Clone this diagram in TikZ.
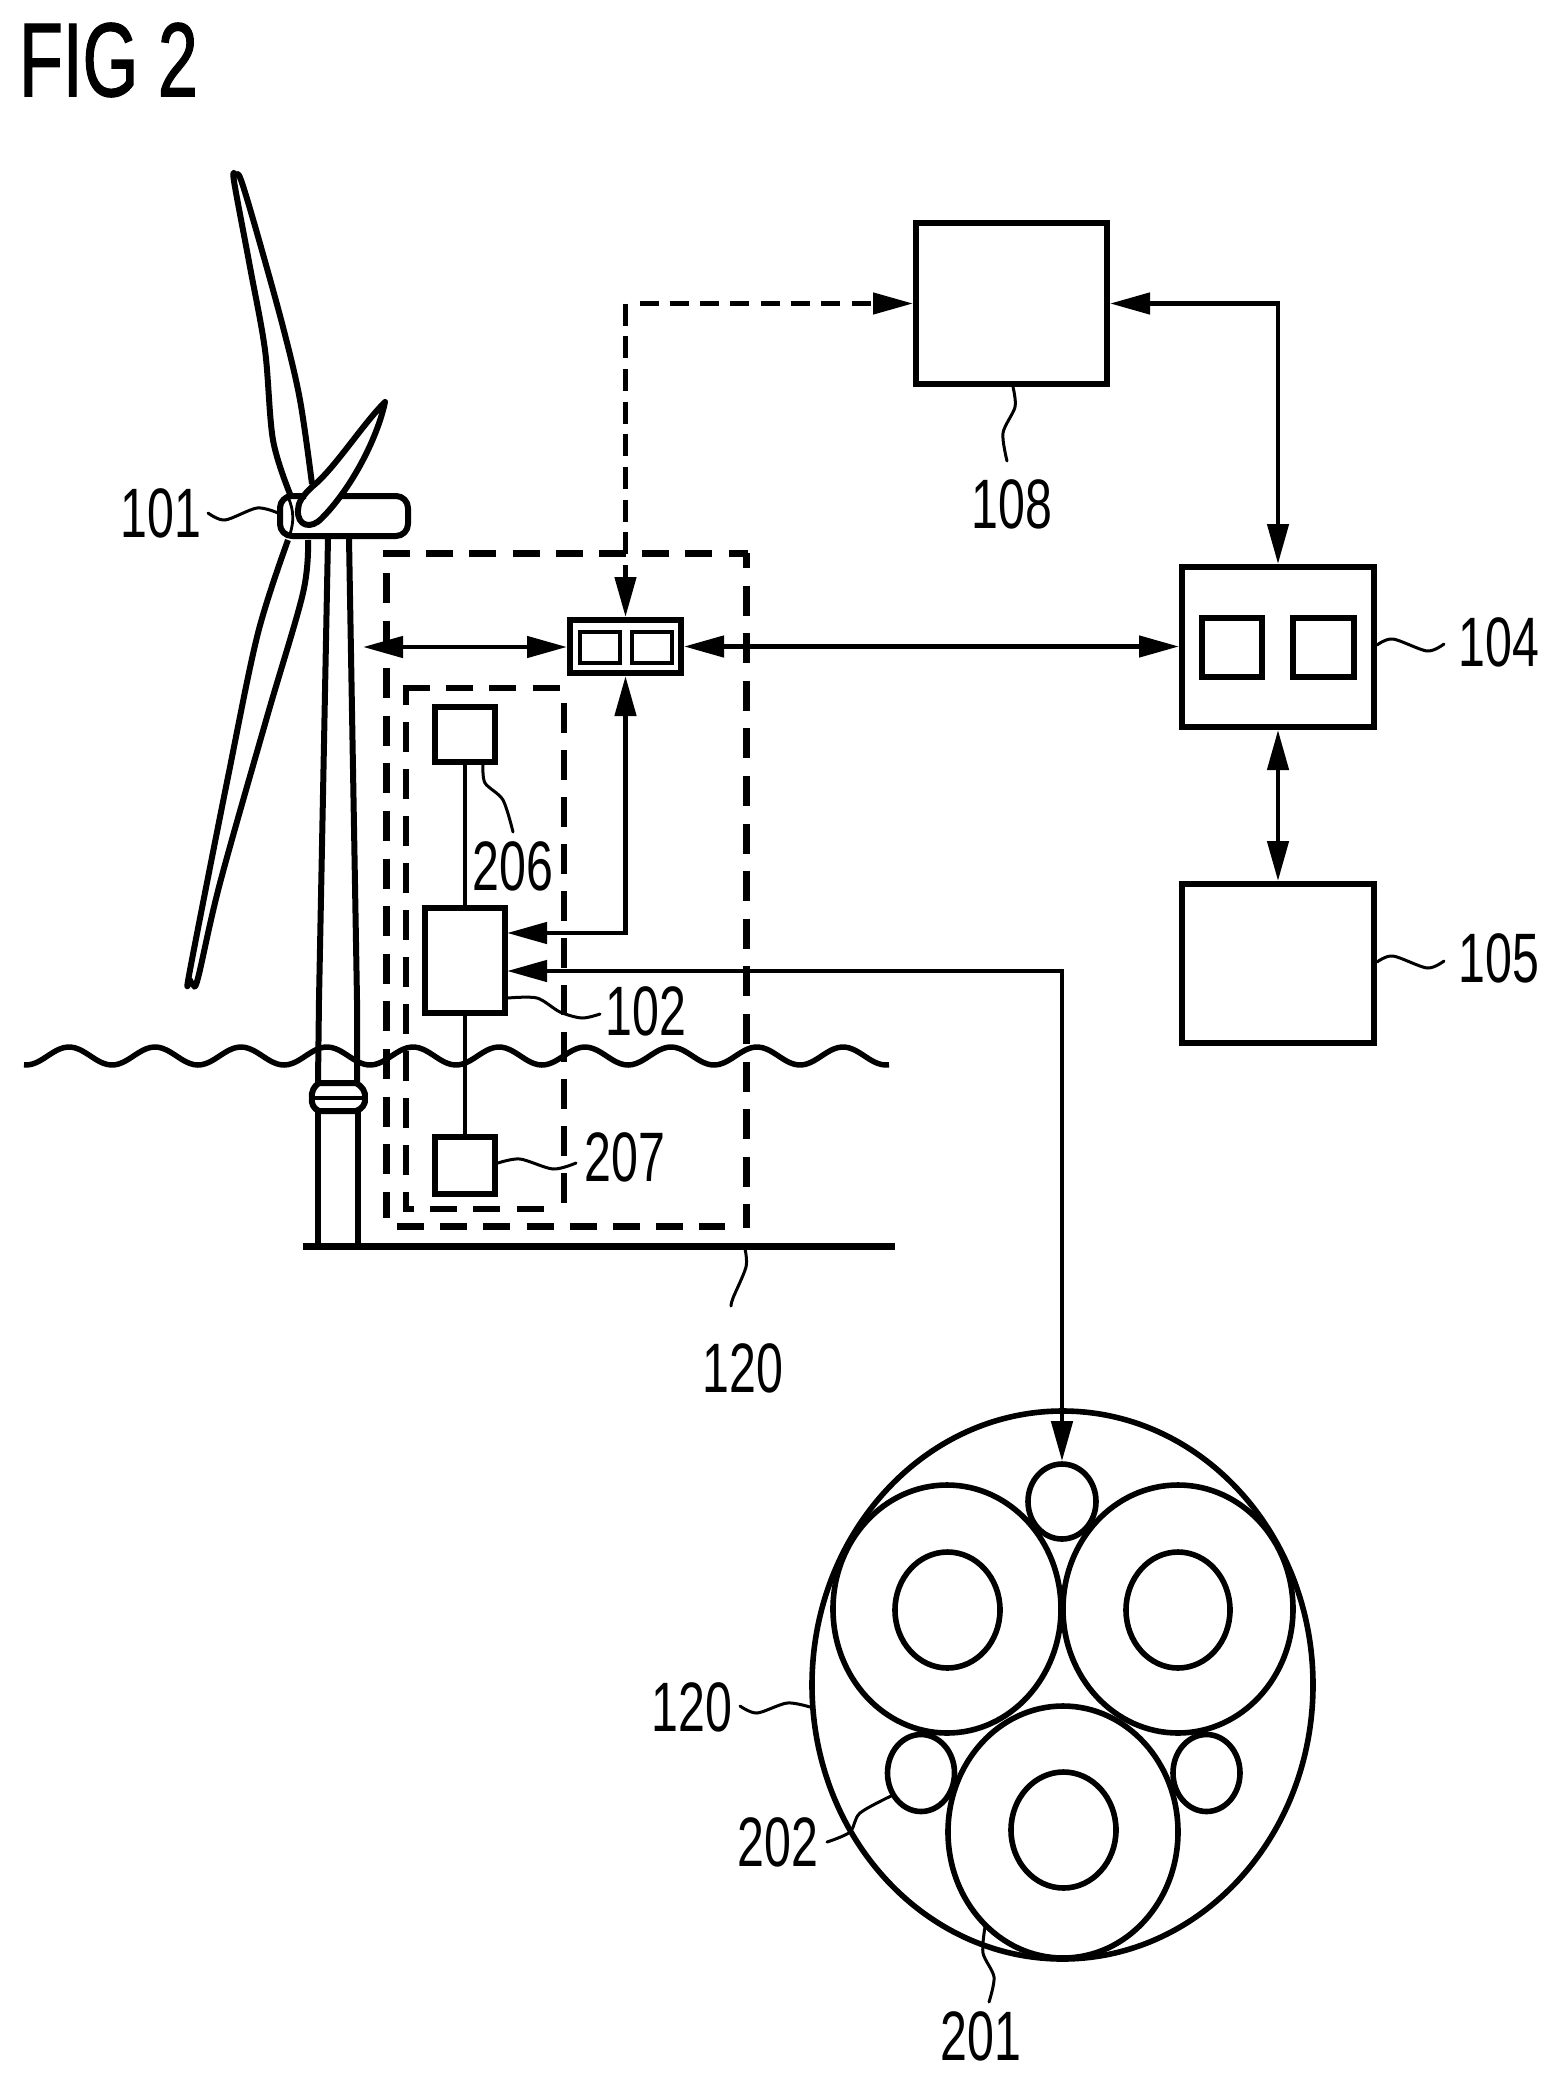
\documentclass[tikz,border=0pt]{standalone}
\usepackage{fontspec}
\setmainfont[FakeStretch=0.69]{Liberation Sans}
\newfontfamily\figfont[FakeStretch=0.68,FakeBold=1.2]{Liberation Sans}
\usetikzlibrary{arrows.meta,shapes.geometric,calc}
\tikzset{
  >={Triangle[length=40pt,width=21pt]},
  box/.style={draw,line width=6pt,inner sep=0pt,rectangle},
  thinbox/.style={draw,line width=4.5pt,inner sep=0pt,rectangle},
  conn/.style={line width=4.6pt,line cap=butt},
  wire/.style={line width=4pt},
  dashH/.style={line width=4.6pt,dash pattern=on 19pt off 11.3pt},
  dashV/.style={line width=4.6pt,dash pattern=on 22pt off 10.7pt},
  lead/.style={line width=3pt,line cap=round},
  num/.style={inner sep=0pt,font=\fontsize{70}{80}\selectfont},
  figlabel/.style={inner sep=0pt,font=\figfont\fontsize{105}{120}\selectfont},
  cable/.style={draw,ellipse,line width=5.6pt,inner sep=0pt},
  blade/.style={line width=6pt,line join=round},
  tower/.style={line width=6pt},
  outerH/.style={line width=7pt,dash pattern=on 27pt off 16.2pt},
  outerV/.style={line width=7pt,dash pattern=on 30pt off 17.6pt},
  innerH/.style={line width=6.5pt,dash pattern=on 27pt off 16.2pt},
  innerV/.style={line width=6.5pt,dash pattern=on 30pt off 17pt}
}
\begin{document}
\begin{tikzpicture}[x=1pt,y=-1pt]
\useasboundingbox (0,0) rectangle (1558,2082);
\node[figlabel] (fig) at (108.5,60) {FIG 2};

% turbine
\draw[blade] plot[smooth,tension=.55] coordinates {(290,494)(273,440)(265,350)(250,267)(234,181)(236,175)(241,180)(257,233)(283,327)(300,400)(312,484)};
\draw[blade] plot[smooth,tension=.55] coordinates {(288,540)(258,633)(228,777)(190,970)(190,980)(193,984)(198,978)(220,883)(267,717)(303,593)(308,540)};
\draw[blade] (313,486) .. controls (335,468) and (362,425) .. (385,402) .. controls (377,440) and (350,490) .. (322,518) .. controls (311,530) and (297,526) .. (298,510) .. controls (298,503) and (302,496) .. (313,486) -- cycle;
\draw[blade,rounded corners=12pt] (340,496) -- (408,496) -- (408,536) -- (280,536) -- (280,496) -- (306,496);
\draw[line width=2.8pt] (288,497) .. controls (294,510) and (294,522) .. (290,534);
\draw[tower] (328,538) -- (319,1000) -- (318,1082);
\draw[tower] (349,538) -- (357,1000) -- (357,1082);
\draw[tower] (318,1110) -- (318,1246);
\draw[tower] (358,1110) -- (358,1246);
\draw[line width=6pt,line join=round] (319,1083) -- (356,1083) .. controls (362,1086) and (366,1092) .. (365,1098) .. controls (366,1104) and (362,1109) .. (356,1111) -- (319,1111) .. controls (314,1109) and (311,1104) .. (312,1098) .. controls (311,1092) and (314,1086) .. (319,1083) -- cycle;
\draw[line width=3.5pt] (313,1098) -- (364,1098);

% sea and seabed
\draw[line width=5.5pt] plot[domain=24:889,samples=220,smooth] (\x,{1056-9*cos(4.186*(\x-327))});
\draw[line width=7pt] (303,1246) -- (895,1246);

% outer dashed enclosure
\draw[outerH] (383,553) -- (748,553);
\draw[outerV,dash phase=15pt] (746,553) -- (746,1228);
\draw[outerH] (397,1226) -- (725,1226);
\draw[outerV] (386,573) -- (386,1218);
% inner dashed enclosure
\draw[innerH] (403,688) -- (563,688);
\draw[innerV] (564,703) -- (564,1207);
\draw[innerV,dash phase=13pt] (406,688) -- (406,1209);
\draw[innerH,dash phase=16pt] (403,1209) -- (551,1209);

% boxes
\node[box,minimum width=191pt,minimum height=161pt] (b108) at (1011.5,303.5) {};
\node[box,minimum width=192pt,minimum height=160pt] (b104) at (1278,647) {};
\node[box,minimum width=60pt,minimum height=59pt] (in1) at (1232,647.5) {};
\node[box,minimum width=61pt,minimum height=59pt] (in2) at (1323.5,647.5) {};
\node[box,minimum width=192pt,minimum height=159pt] (b105) at (1278,963.5) {};
\node[box,minimum width=111pt,minimum height=53pt] (ctrl) at (625.5,646.5) {};
\node[thinbox,minimum width=40pt,minimum height=31pt] (c1) at (600,647.5) {};
\node[thinbox,minimum width=40pt,minimum height=31pt] (c2) at (652,647.5) {};
\node[box,minimum width=60pt,minimum height=55pt] (b206) at (464.5,734) {};
\node[box,minimum width=80pt,minimum height=105pt] (b102) at (464.5,960) {};
\node[box,minimum width=60pt,minimum height=57pt] (b207) at (464.5,1165) {};

% cable section
\node[cable,minimum width=501pt,minimum height=548pt] (cableO) at (1062.5,1685) {};
\node[cable,minimum width=228pt,minimum height=248pt] (c1o) at (947,1609) {};
\node[cable,minimum width=230pt,minimum height=248pt] (c2o) at (1178,1609) {};
\node[cable,minimum width=230pt,minimum height=252pt] (c3o) at (1063,1832) {};
\node[cable,minimum width=105pt,minimum height=116pt] (c1i) at (947.5,1610) {};
\node[cable,minimum width=104pt,minimum height=116pt] (c2i) at (1178,1610) {};
\node[cable,minimum width=105pt,minimum height=116pt] (c3i) at (1063.5,1830) {};
\node[cable,minimum width=68pt,minimum height=75pt] (s1) at (1062,1501.5) {};
\node[cable,minimum width=67pt,minimum height=77pt] (s2) at (921,1773) {};
\node[cable,minimum width=67pt,minimum height=77pt] (s3) at (1206.5,1773) {};

% connectors
\coordinate (tipL) at (363,647);
\coordinate (p102a) at (507,933);
\coordinate (p102b) at (507,971);
\coordinate (dcorner) at (ctrl.north |- b108.west);
\coordinate (dstart) at ($(dcorner)+(14,0)$);
\draw[conn,<->] (tipL) -- (ctrl.west |- tipL);
\draw[conn,<->] (ctrl.east) -- (ctrl.east -| b104.west);
\draw[dashV,->] (dcorner) -- (ctrl.north);
\draw[dashH,->] (dstart) -- (b108.west);
\draw[conn,<->] (ctrl.south) |- (p102a);
\draw[conn,<->] (p102b) -| (s1.north);
\draw[conn,<->] (b108.east) -| (b104.north);
\draw[conn,<->] (b104.south) -- (b105.north);
\draw[wire] (b206.south) -- (b102.north);
\draw[wire] (b102.south) -- (b207.north);

% labels
\node[num] (l101) at (161,513) {101};
\node[num] (l206) at (513,866) {206};
\node[num] (l102) at (646,1011) {102};
\node[num] (l207) at (625,1157) {207};
\node[num] (l120a) at (743,1368) {120};
\node[num] (l108) at (1012,504) {108};
\node[num] (l104) at (1499,642) {104};
\node[num] (l105) at (1499,958) {105};
\node[num] (l120b) at (692,1707) {120};
\node[num] (l202) at (778,1842) {202};
\node[num] (l201) at (981,2036) {201};

% leaders
\draw[lead] plot[smooth] coordinates {(208,513)(225,520)(257,508)(278,513)};
\draw[lead] plot[smooth] coordinates {(483,765)(485,783)(503,800)(513,832)};
\draw[lead] plot[smooth] coordinates {(508,998)(537,998)(560,1012)(582,1018)(600,1014)};
\draw[lead] plot[smooth] coordinates {(498,1163)(520,1159)(553,1169)(576,1163)};
\draw[lead] plot[smooth] coordinates {(745,1249)(746,1267)(733,1298)(731,1306)};
\draw[lead] plot[smooth] coordinates {(1013,387)(1015,407)(1003,433)(1007,461)};
\draw[lead] plot[smooth] coordinates {(1377,645)(1393,639)(1427,651)(1444,644)};
\draw[lead] plot[smooth] coordinates {(1377,962)(1393,956)(1427,968)(1444,961)};
\draw[lead] plot[smooth] coordinates {(740,1706)(757,1713)(787,1703)(810,1707)};
\draw[lead] plot[smooth] coordinates {(827,1842)(850,1832)(860,1813)(893,1795)};
\draw[lead] plot[smooth] coordinates {(985,1927)(983,1953)(994,1977)(989,2002)};
\end{tikzpicture}
\end{document}
